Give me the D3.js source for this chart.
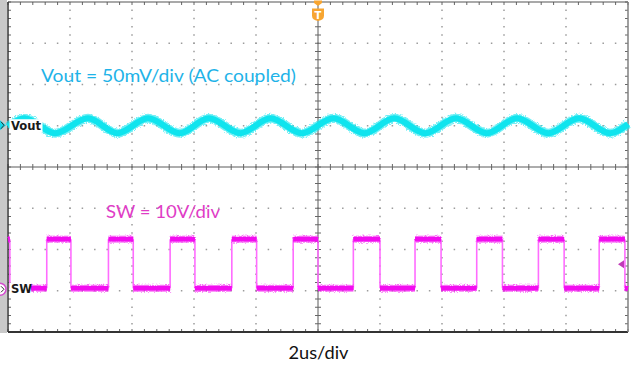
<!DOCTYPE html>
<html><head><meta charset="utf-8">
<script src="https://cdn.jsdelivr.net/npm/d3@7"></script>
<style>html,body{margin:0;padding:0;background:#fff;overflow:hidden}</style>
</head><body><svg id="c" width="631" height="368"></svg>
<script>
// ---- data ----
const timeDomain = [-10, 10];          // microseconds, 2 us/div
const divDomain = [-4, 4];             // vertical divisions
const voutOffsetDiv = 1;               // Vout channel marker position
const voutMvPerDiv = 50;               // 50 mV/div
const swOffsetDiv = -3;                // SW ground marker position
const swVoltsPerDiv = 10;              // 10 V/div
const triggerLevelV = 6.4;             // SW trigger level marker
// Vout ripple extrema (time in us, value in mV)
const voutTimes = [-10, -9.47, -8.48, -7.42, -6.47, -5.48, -4.46, -3.52, -2.50, -1.53, -0.52, 0.50, 1.50, 2.46, 3.46, 4.45, 5.45, 6.42, 7.43, 8.42, 9.42, 10];
const voutMv    = [-1, 9, -9, 9, -9, 9, -9, 9, -9, 9, -9, 9, -9, 9, -9, 9, -9, 9, -9, 9, -9, 2];
// SW node: edge times (us) and the level (V) held after each edge
const swEdgeTimes = [-10, -9.94, -8.75, -7.97, -6.76, -5.96, -4.77, -3.97, -2.78, -1.98, -0.80, 0.00, 1.14, 2.00, 3.13, 3.97, 5.12, 5.95, 7.11, 7.94, 9.07, 9.90, 10];
const swLevels    = [12.5, 0.6, 12.5, 0.6, 12.5, 0.6, 12.5, 0.6, 12.5, 0.6, 12.5, 0.6, 12.5, 0.6, 12.5, 0.6, 12.5, 0.6, 12.5, 0.6, 12.5, 0.6];
const voutTitle = "Vout = 50mV/div (AC coupled)";
const swTitle = "SW = 10V/div";
const timeTitle = "2us/div";

// ---- drawing ----
const svg = d3.select("#c");
const x = d3.scaleLinear().domain(timeDomain).range([8, 628]);
const y = d3.scaleLinear().domain(divDomain).range([332, 2]);
const yVout = v => y(voutOffsetDiv + v / voutMvPerDiv);
const ySw = v => y(swOffsetDiv + v / swVoltsPerDiv);

const defs = svg.append("defs");
const f = defs.append("filter").attr("id", "rough").attr("filterUnits", "userSpaceOnUse")
  .attr("x", 0).attr("y", 0).attr("width", 631).attr("height", 368);
f.append("feTurbulence").attr("type", "fractalNoise").attr("baseFrequency", "0.9").attr("numOctaves", 2).attr("seed", 4).attr("result", "n");
f.append("feDisplacementMap").attr("in", "SourceGraphic").attr("in2", "n").attr("scale", 4)
  .attr("xChannelSelector", "R").attr("yChannelSelector", "G");

svg.append("rect").attr("width", 631).attr("height", 368).attr("fill", "#fff");
svg.append("rect").attr("x", 0).attr("y", 0).attr("width", 7).attr("height", 333).attr("fill", "#c9c9c9");

const minorT = d3.range(0, 51).map(i => -10 + i * 0.4);
const minorD = d3.range(0, 41).map(i => -4 + i * 0.2);
const majorT = [-8, -6, -4, -2, 2, 4, 6, 8];
const majorD = [-3, -2, -1, 1, 2, 3];
const grid = svg.append("g");
const dots = [];
majorT.forEach(t => minorD.slice(1, -1).forEach(d => dots.push([x(t), y(d)])));
majorD.forEach(d => minorT.slice(1, -1).forEach(t => dots.push([x(t), y(d)])));
grid.selectAll("rect.dot").data(dots).join("rect").attr("class", "dot")
  .attr("x", d => d[0] - 0.75).attr("y", d => d[1] - 0.75).attr("width", 1.5).attr("height", 1.5).attr("fill", "#9c9c9c");

// centre cross
grid.append("line").attr("x1", x(0)).attr("x2", x(0)).attr("y1", y(4)).attr("y2", y(-4)).attr("stroke", "#5a5a5a").attr("stroke-width", 1);
grid.append("line").attr("x1", x(-10)).attr("x2", x(10)).attr("y1", y(0)).attr("y2", y(0)).attr("stroke", "#5a5a5a").attr("stroke-width", 1);
const ticks = [];
minorD.forEach(d => ticks.push([x(0) - 3, y(d), x(0) + 3, y(d)]));
minorT.forEach(t => ticks.push([x(t), y(0) - 3, x(t), y(0) + 3]));
minorT.forEach(t => { ticks.push([x(t), y(4), x(t), y(4) + 3]); ticks.push([x(t), y(-4), x(t), y(-4) - 3]); });
minorD.forEach(d => { ticks.push([x(-10), y(d), x(-10) + 3, y(d)]); ticks.push([x(10), y(d), x(10) - 3, y(d)]); });
grid.selectAll("line.tk").data(ticks).join("line").attr("class", "tk")
  .attr("x1", d => d[0]).attr("y1", d => d[1]).attr("x2", d => d[2]).attr("y2", d => d[3])
  .attr("stroke", "#666").attr("stroke-width", 1);
// border
grid.append("line").attr("x1", x(-10)).attr("x2", x(10)).attr("y1", y(4)).attr("y2", y(4)).attr("stroke", "#555").attr("stroke-width", 1.2);
grid.append("line").attr("x1", x(-10)).attr("x2", x(10)).attr("y1", y(-4)).attr("y2", y(-4)).attr("stroke", "#333").attr("stroke-width", 2);
grid.append("line").attr("x1", x(-10)).attr("x2", x(-10)).attr("y1", y(4)).attr("y2", y(-4)).attr("stroke", "#333").attr("stroke-width", 1.5);
grid.append("line").attr("x1", x(10)).attr("x2", x(10)).attr("y1", y(4)).attr("y2", y(-4)).attr("stroke", "#808080").attr("stroke-width", 1.5);

// ---- Vout trace ----
const voutData = voutTimes.map((t, i) => ({t, v: voutMv[i]}));
const voutLine = d3.line().x(d => x(d.t)).y(d => yVout(d.v)).curve(d3.curveMonotoneX);
const tr = svg.append("g");
tr.append("path").attr("d", voutLine(voutData)).attr("fill", "none").attr("stroke", "#19e6ef")
  .attr("stroke-width", 9).attr("opacity", 0.6).attr("filter", "url(#rough)");
tr.append("path").attr("d", voutLine(voutData)).attr("fill", "none").attr("stroke", "#0fe4ee")
  .attr("stroke-width", 6);

// ---- SW trace ----
const swSegs = swLevels.map((v, i) => ({t0: swEdgeTimes[i], t1: swEdgeTimes[i + 1], v}));
const swEdges = swSegs.slice(1).map((s, i) => ({t: s.t0, v0: swSegs[i].v, v1: s.v}));
tr.selectAll("line.swE").data(swEdges).join("line").attr("class", "swE")
  .attr("x1", d => x(d.t)).attr("x2", d => x(d.t)).attr("y1", d => ySw(d.v0)).attr("y2", d => ySw(d.v1))
  .attr("stroke", "#ff6cff").attr("stroke-width", 1.6);
const swg = tr.append("g").attr("filter", "url(#rough)");
swg.selectAll("line.swF").data(swSegs).join("line").attr("class", "swF")
  .attr("x1", d => x(d.t0)).attr("x2", d => x(d.t1)).attr("y1", d => ySw(d.v)).attr("y2", d => ySw(d.v))
  .attr("stroke", "#f419f0").attr("stroke-width", 7).attr("opacity", 0.6);
tr.selectAll("line.swC").data(swSegs).join("line").attr("class", "swC")
  .attr("x1", d => x(d.t0)).attr("x2", d => x(d.t1)).attr("y1", d => ySw(d.v)).attr("y2", d => ySw(d.v))
  .attr("stroke", "#f20cef").attr("stroke-width", 4.5);

// ---- channel labels & markers ----
const lab = svg.append("g").attr("font-family", "DejaVu Sans").attr("font-weight", "bold").attr("font-size", 11.6).attr("fill", "#1a1a1a");
lab.append("rect").attr("x", 9.5).attr("y", y(voutOffsetDiv) - 6.5).attr("width", 33).attr("height", 13.5).attr("fill", "#fff");
lab.append("text").attr("x", 11).attr("y", y(voutOffsetDiv) + 3.8).text("Vout");
lab.append("rect").attr("x", 9.5).attr("y", y(swOffsetDiv) - 8).attr("width", 21.5).attr("height", 14).attr("fill", "#fff");
lab.append("text").attr("x", 11).attr("y", y(swOffsetDiv) + 2.3).text("SW");

svg.append("path").attr("d", `M0,${y(voutOffsetDiv) - 5.5}L6,${y(voutOffsetDiv) - 0.5}L0,${y(voutOffsetDiv) + 4.5}Z`)
  .attr("fill", "#16d8ea");
svg.append("path").attr("d", `M1,${y(voutOffsetDiv) - 4}L4,${y(voutOffsetDiv) - 0.5}L1,${y(voutOffsetDiv) + 3}`)
  .attr("fill", "none").attr("stroke", "#333").attr("stroke-width", 1);
const swy = y(swOffsetDiv) - 1.5;
svg.append("circle").attr("cx", 0).attr("cy", swy).attr("r", 6).attr("fill", "#fff").attr("stroke", "#d44bd0").attr("stroke-width", 1.5);
svg.append("path").attr("d", `M1,${swy - 3}L4,${swy}L1,${swy + 3}`).attr("fill", "none").attr("stroke", "#333").attr("stroke-width", 1);
// trigger level marker (right)
const tly = ySw(triggerLevelV);
svg.append("path").attr("d", `M618,${tly}L624,${tly - 4}L624,${tly + 4}Z`).attr("fill", "#c03ab8");
// trigger position marker (top)
const tx = x(0);
const trg = svg.append("g").attr("fill", "#f7a531");
trg.append("path").attr("d", `M${tx - 4},0.5L${tx + 4},0.5L${tx + 4},3L${tx},6L${tx - 4},3Z`);
trg.append("path").attr("d", `M${tx - 6},8.5L${tx + 6},8.5L${tx + 6},15.5Q${tx + 6},20 ${tx},21Q${tx - 6},20 ${tx - 6},15.5Z`);
svg.append("text").attr("x", tx).attr("y", 18.5).attr("text-anchor", "middle").attr("font-family", "DejaVu Sans")
  .attr("font-weight", "bold").attr("font-size", 10).attr("fill", "#fff").text("T");

// ---- annotations ----
svg.append("text").attr("x", 41).attr("y", 81.8).attr("font-family", "Lato").attr("font-size", 17.5)
  .attr("fill", "#1eb3e8").attr("textLength", 255).attr("lengthAdjust", "spacingAndGlyphs").text(voutTitle);
svg.append("text").attr("x", 106).attr("y", 217.5).attr("font-family", "Lato").attr("font-size", 16.5)
  .attr("fill", "#e03cc6").attr("textLength", 114).attr("lengthAdjust", "spacingAndGlyphs").text(swTitle);
svg.append("text").attr("x", 288.5).attr("y", 358.5).attr("font-family", "Lato").attr("font-size", 16.5)
  .attr("fill", "#111").attr("textLength", 60).attr("lengthAdjust", "spacingAndGlyphs").text(timeTitle);
</script>
</body></html>
